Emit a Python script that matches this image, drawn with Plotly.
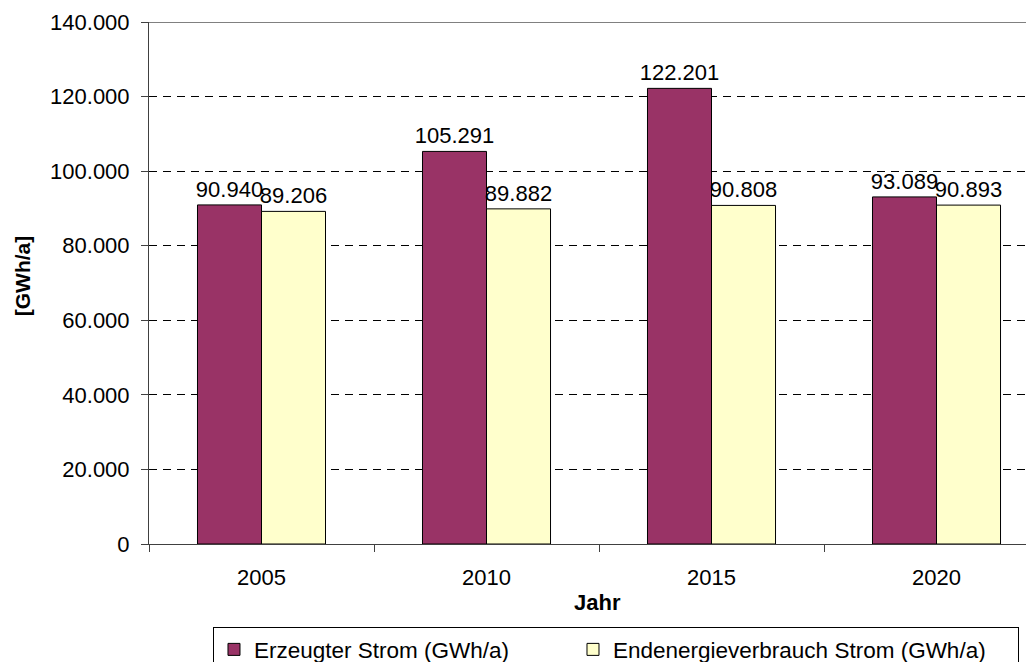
import plotly.graph_objects as go

years = ["2005", "2010", "2015", "2020"]
erzeugt = [90940, 105291, 122201, 93089]
verbrauch = [89206, 89882, 90808, 90893]
series_names = ["Erzeugter Strom (GWh/a)", "Endenergieverbrauch Strom (GWh/a)"]
y_ticks = [0, 20000, 40000, 60000, 80000, 100000, 120000, 140000]

FONT = "Liberation Sans, Arial, sans-serif"

fig = go.Figure()
fig.add_trace(go.Bar(
    x=years, y=erzeugt, name=series_names[0], legendwidth=314,
    marker=dict(color="#993366", line=dict(color="black", width=1)),
    texttemplate="%{y:,.0f}", textposition="outside", constraintext="none",
    textfont=dict(size=22, color="black", family=FONT), cliponaxis=False,
))
fig.add_trace(go.Bar(
    x=years, y=verbrauch, name=series_names[1], legendwidth=400,
    marker=dict(color="#FFFFCC", line=dict(color="black", width=1)),
    texttemplate="%{y:,.0f}", textposition="outside", constraintext="none",
    textfont=dict(size=22, color="black", family=FONT), cliponaxis=False,
))

fig.update_layout(
    width=1026, height=654,
    margin=dict(l=141, r=0, t=14, b=118, autoexpand=False),
    paper_bgcolor="white", plot_bgcolor="white",
    separators=",.",
    barmode="group", bargap=0.431, bargroupgap=0,
    font=dict(family=FONT, size=22, color="black"),
    showlegend=True,
    legend=dict(
        orientation="h", x=0.0723, y=-0.1595, xanchor="left", yanchor="top",
        bordercolor="black", borderwidth=1, font=dict(size=22.5, family=FONT),
        traceorder="normal",
    ),
    xaxis=dict(
        type="category", range=[-0.5, 3.4333], automargin=False,
        showline=True, linecolor="#404040", linewidth=1,
        ticks="outside", tickson="boundaries", ticklen=7, tickcolor="#404040",
        tickfont=dict(size=22), ticklabelstandoff=14,
        showgrid=False,
    ),
    yaxis=dict(
        range=[0, 140000], tickvals=y_ticks, tickformat=",.0f", automargin=False,
        showline=True, linecolor="#404040", linewidth=1,
        ticks="outside", ticklen=7, tickcolor="#404040",
        tickfont=dict(size=22), ticklabelstandoff=7,
        showgrid=True, gridcolor="black", gridwidth=1, griddash="8px,6px",
        zeroline=False,
    ),
    shapes=[dict(type="line", xref="paper", yref="y", x0=0, x1=1, y0=140000, y1=140000,
                 line=dict(color="#808080", width=2))],
    annotations=[
        dict(text="<b>[GWh/a]</b>", xref="paper", yref="paper", x=-0.1435, y=0.513,
             xanchor="center", yanchor="middle", textangle=-90, showarrow=False,
             font=dict(size=21, family=FONT, color="black")),
        dict(text="<b>Jahr</b>", xref="paper", yref="paper", x=0.5073, y=-0.113,
             xanchor="center", yanchor="middle", showarrow=False,
             font=dict(size=22, family=FONT, color="black")),
    ],
)

fig.write_html("out.html")
